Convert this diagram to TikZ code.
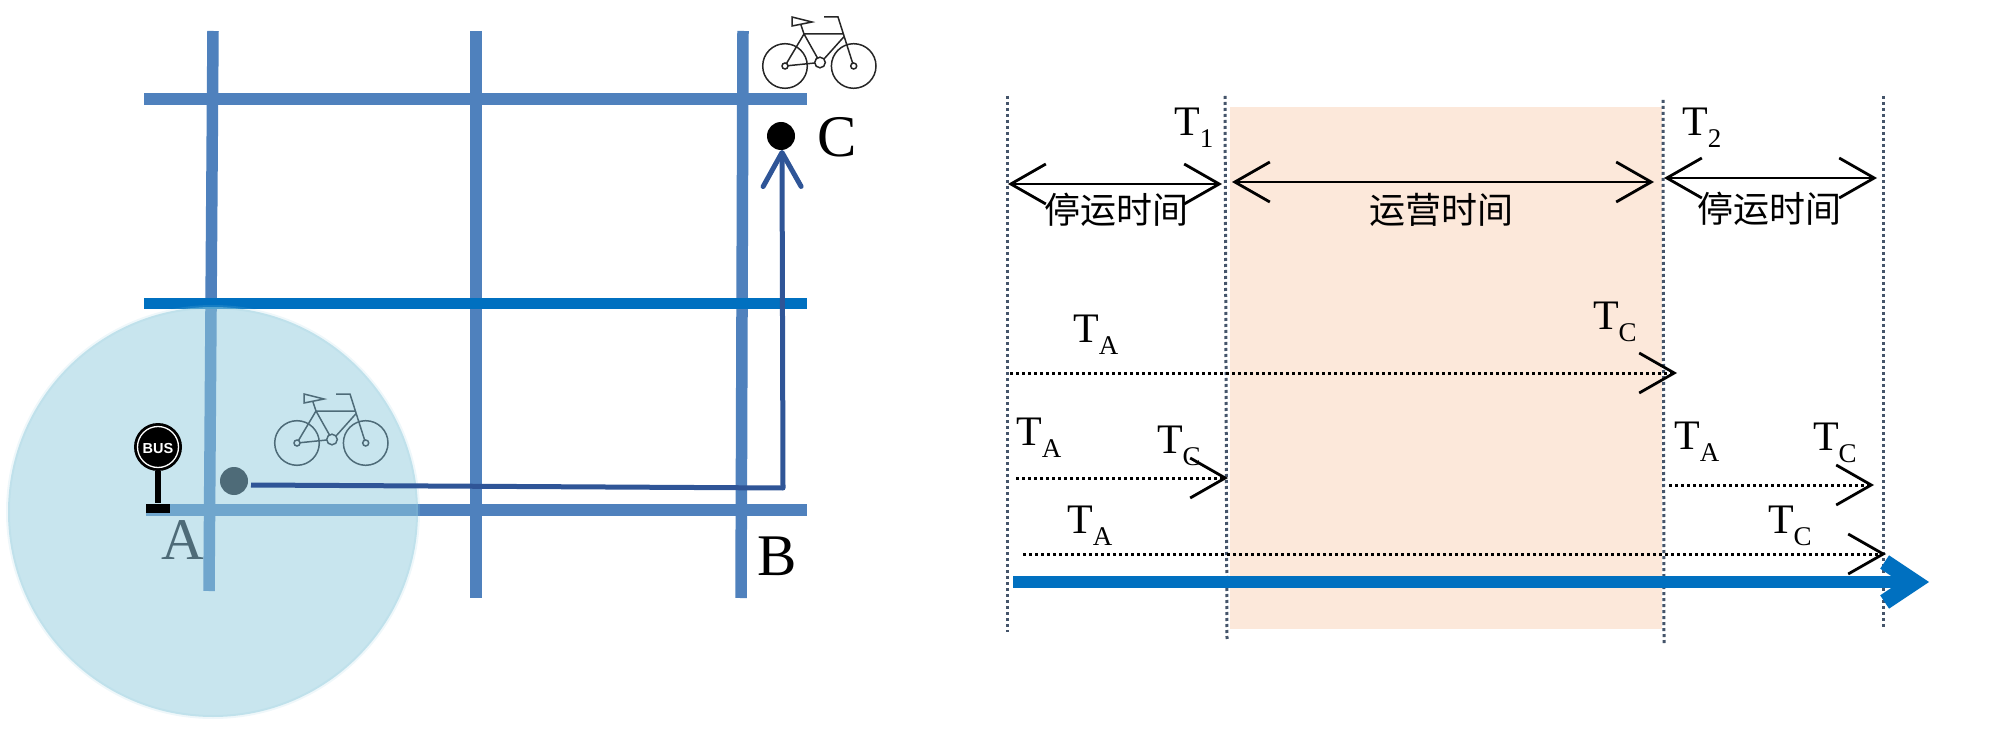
\documentclass[tikz,border=0pt]{standalone}
\usepackage{fontspec}
\setmainfont{Liberation Serif}
\newfontfamily\cjk{Noto Sans CJK SC}
\newfontfamily\busfont{Liberation Sans}
\usetikzlibrary{arrows.meta}
\definecolor{road}{RGB}{79,129,189}
\definecolor{roadblue}{RGB}{0,112,192}
\definecolor{pathblue}{RGB}{47,85,151}
\definecolor{zonefill}{RGB}{145,203,221}
\definecolor{slate}{RGB}{68,84,106}
\definecolor{peach}{RGB}{252,232,218}
\definecolor{teal}{RGB}{78,107,120}
\newcommand{\Tlab}[1]{T\kern-0.5pt\raisebox{-0.28em}{\fontsize{27}{27}\selectfont #1}}
\tikzset{
  x=1pt,y=-1pt,
  roadline/.style={draw=road,line width=11.5pt},
  roadmid/.style={draw=roadblue,line width=11pt},
  trip/.style={draw=pathblue,line width=5pt},
  tripdone/.style={trip,-{Straight Barb[length=34pt,width=38pt,line width=5pt,round]}},
  divider/.style={draw=slate,line width=3pt,dash pattern=on 3pt off 3pt},
  span/.style={draw=black,line width=2.8pt,{Straight Barb[length=35pt,width=40pt,line width=2.8pt]}-{Straight Barb[length=35pt,width=40pt,line width=2.8pt]}},
  wait/.style={draw=black,line width=3pt,dash pattern=on 3pt off 3pt,-{Straight Barb[length=35pt,width=40pt,line width=2.8pt]}},
  axisline/.style={draw=roadblue,line width=12pt,-{Straight Barb[length=30pt,width=40pt,line width=16pt]}},
  tlabel/.style={font=\fontsize{42}{42}\selectfont,inner sep=0pt},
  bigletter/.style={font=\fontsize{59}{59}\selectfont,inner sep=0pt},
  cjklabel/.style={font=\cjk\fontsize{36}{36}\selectfont,inner sep=0pt},
  dotnode/.style={circle,inner sep=0pt,minimum size=28pt},
  bike/.pic={
    \draw[line width=1.5pt,pic actions]
      (0,0) circle[radius=22.3] (68.7,0) circle[radius=22.3]
      (35,-3.5) circle[radius=5.3]
      (0,0) circle[radius=3] (68.7,0) circle[radius=3]
      (3,-0.3) -- (29.8,-3) (1.5,-2.6) -- (19,-32) -- (32.5,-8)
      (19,-32) -- (58.7,-32) (58.7,-29) -- (39,-7)
      (39,-49) -- (53,-49) -- (67.6,-3)
      (19,-32) -- (16,-41)
      (7,-49) -- (7,-40) -- (27,-44) -- cycle;
  }
}
\begin{document}
\begin{tikzpicture}
\useasboundingbox (0,0) rectangle (2000,735);
% ---------- left: street grid
\coordinate (v1t) at (213,31); \coordinate (v1b) at (209,591);
\coordinate (v2t) at (476,31); \coordinate (v2b) at (476,598);
\coordinate (v3t) at (743,31); \coordinate (v3b) at (741,598);
\coordinate (h1l) at (144,99); \coordinate (h1r) at (807,99);
\coordinate (h2l) at (144,304); \coordinate (h2r) at (807,304);
\coordinate (h3l) at (146,510); \coordinate (h3r) at (807,510);
\draw[roadline] (h1l) -- (h1r);
\draw[roadline] (h3l) -- (h3r);
\draw[roadline] (v1t) -- (v1b);
\draw[roadline] (v2t) -- (v2b);
\draw[roadline] (v3t) -- (v3b);
\draw[roadmid] (h2l) -- (h2r);
\node[circle,inner sep=0pt,minimum size=410pt,fill=zonefill,fill opacity=.5,draw=zonefill,draw opacity=.15,line width=4pt] (zone) at (213,512) {};
% bus stop
\node[circle,fill=black,inner sep=0pt,minimum size=48pt] (sign) at (158,447) {};
\node[circle,draw=white,line width=1.3pt,inner sep=0pt,minimum size=41pt] (ring) at (158,447) {};
\node[text=white,font=\busfont\bfseries\fontsize{14.5}{14.5}\selectfont,inner sep=0pt] (bus) at (158,449) {BUS};
\node[fill=black,inner sep=0pt,minimum width=24pt,minimum height=9pt] (base) at (158,508) {};
\draw[black,line width=5.5pt] (sign.south) -- (base.north);
% labels
\node[bigletter,text=teal] (A) at (183,540) {A};
\node[bigletter] (B) at (777,556) {B};
\node[bigletter] (C) at (837,137) {C};
% bikes
\pic[draw=black!85] (bikeC) at (785,66) {bike};
\pic[draw=teal] (bikeA) at (297,443) {bike};
% route
\node[dotnode,fill=teal] (start) at (234,481) {};
\node[dotnode,fill=black] (goal) at (781,136) {};
\coordinate (rstart) at (251,485);
\coordinate (rturn) at (783,488);
\coordinate (rtip) at (782,150);
\draw[tripdone,line join=round] (rstart) -- (rturn) -- (rtip);
% ---------- right: timeline
\fill[peach] (1230,107) rectangle (1662,629);
\coordinate (d1t) at (1007,96);  \coordinate (d1b) at (1007,632);
\coordinate (d2t) at (1225,96);  \coordinate (d2b) at (1227,641);
\coordinate (d3t) at (1663,100); \coordinate (d3b) at (1664,643);
\coordinate (d4t) at (1883,96);  \coordinate (d4b) at (1883,627);
\draw[divider] (d1t) -- (d1b);
\draw[divider] (d2t) -- (d2b);
\draw[divider] (d3t) -- (d3b);
\draw[divider] (d4t) -- (d4b);
% spans
\coordinate (s1l) at (1008,184); \coordinate (s1r) at (1222,184);
\coordinate (s2l) at (1232,182); \coordinate (s2r) at (1654,182);
\coordinate (s3l) at (1664,178); \coordinate (s3r) at (1877,178);
\draw[span] (s1l) -- (s1r);
\draw[span] (s2l) -- (s2r);
\draw[span] (s3l) -- (s3r);
\node[cjklabel] (stop1) at (1116,210) {停运时间};
\node[cjklabel] (run) at (1441,210) {运营时间};
\node[cjklabel] (stop2) at (1769,209) {停运时间};
\node[tlabel] (T1) at (1194,128) {\Tlab{1}};
\node[tlabel] (T2) at (1702,128) {\Tlab{2}};
% waits
\coordinate (w1l) at (1010,373); \coordinate (w1r) at (1677,373);
\coordinate (w2l) at (1016,478); \coordinate (w2r) at (1228,478);
\coordinate (w3l) at (1669,485); \coordinate (w3r) at (1874,485);
\coordinate (w4l) at (1023,554); \coordinate (w4r) at (1886,554);
\draw[wait] (w1l) -- (w1r);
\draw[wait] (w2l) -- (w2r);
\draw[wait] (w3l) -- (w3r);
\draw[wait] (w4l) -- (w4r);
\node[tlabel] (TA1) at (1096,335) {\Tlab{A}};
\node[tlabel] (TC1) at (1615,322) {\Tlab{C}};
\node[tlabel] (TA2) at (1039,438) {\Tlab{A}};
\node[tlabel] (TC2) at (1179,446) {\Tlab{C}};
\node[tlabel] (TA3) at (1697,442) {\Tlab{A}};
\node[tlabel] (TC3) at (1835,443) {\Tlab{C}};
\node[tlabel] (TA4) at (1090,526) {\Tlab{A}};
\node[tlabel] (TC4) at (1790,526) {\Tlab{C}};
% axis
\coordinate (axl) at (1013,582); \coordinate (axr) at (1929,582);
\draw[axisline] (axl) -- (axr);
\end{tikzpicture}
\end{document}
